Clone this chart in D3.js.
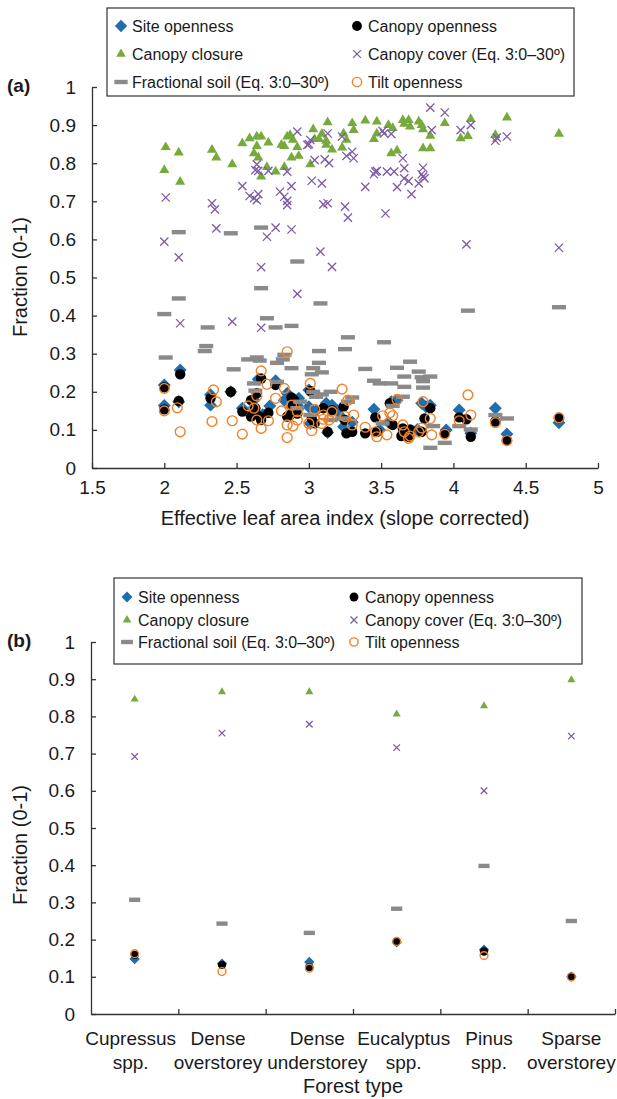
<!DOCTYPE html>
<html>
<head>
<meta charset="utf-8">
<script src="https://cdnjs.cloudflare.com/ajax/libs/d3/7.8.5/d3.min.js"></script>
<style>
	body { margin: 0; background: #fff; }
	text { font-family: 'Liberation Sans', Arial, sans-serif; fill: #1a1a1a; }
</style>
</head>
<body>
<div id="chart"></div>
<script>
// ---- data, panel (a): [effective LAI, fraction] ----
const siteOpenA = [
	[2.00, 0.218], [2.11, 0.257], [2.00, 0.164], [2.10, 0.174], [2.32, 0.192], [2.32, 0.165],
	[2.46, 0.200], [2.54, 0.157], [2.65, 0.233], [2.77, 0.229], [2.73, 0.163], [2.85, 0.196],
	[2.93, 0.183], [3.00, 0.161], [3.00, 0.205], [2.83, 0.178], [2.62, 0.178], [2.92, 0.165],
	[3.12, 0.170], [3.16, 0.165], [3.13, 0.093], [3.23, 0.132], [3.24, 0.108], [3.45, 0.154],
	[3.57, 0.174], [3.61, 0.178], [3.78, 0.170], [3.81, 0.161], [3.49, 0.100], [3.75, 0.101],
	[3.66, 0.095], [3.01, 0.117], [4.04, 0.152], [4.29, 0.157], [3.95, 0.100], [4.12, 0.091],
	[4.37, 0.089], [4.73, 0.119], [3.84, 0.165], [2.60, 0.150], [2.68, 0.140], [2.88, 0.160],
	[3.05, 0.150], [3.20, 0.150], [3.30, 0.120], [3.55, 0.120]
];
const canopyOpenA = [
	[2.00, 0.212], [2.11, 0.246], [2.00, 0.154], [2.10, 0.176], [2.46, 0.200], [2.54, 0.148],
	[2.67, 0.235], [2.77, 0.218], [2.72, 0.145], [2.60, 0.135], [2.64, 0.196], [2.88, 0.185],
	[2.85, 0.135], [2.92, 0.143], [3.01, 0.202], [3.04, 0.117], [2.32, 0.183], [2.67, 0.126],
	[2.89, 0.165], [3.10, 0.157], [3.16, 0.152], [3.13, 0.095], [3.24, 0.161], [3.25, 0.126],
	[3.30, 0.095], [3.39, 0.091], [3.46, 0.133], [3.47, 0.095], [3.56, 0.170], [3.58, 0.113],
	[3.64, 0.084], [3.69, 0.082], [3.70, 0.101], [3.80, 0.130], [3.84, 0.157], [3.78, 0.095],
	[3.02, 0.130], [3.26, 0.091], [3.65, 0.104], [4.04, 0.133], [4.09, 0.128], [3.94, 0.091],
	[4.12, 0.082], [4.37, 0.073], [4.29, 0.122], [4.73, 0.131], [2.66, 0.135], [2.87, 0.139],
	[2.90, 0.178], [2.60, 0.178], [2.63, 0.157]
];
const closureA = [
	[2.01, 0.842], [2.00, 0.782], [2.10, 0.828], [2.11, 0.751], [2.33, 0.835], [2.36, 0.815],
	[2.47, 0.797], [2.54, 0.852], [2.59, 0.865], [2.64, 0.870], [2.67, 0.870], [2.64, 0.845],
	[2.62, 0.826], [2.65, 0.815], [2.67, 0.765], [2.72, 0.854], [2.71, 0.790], [2.77, 0.778],
	[2.81, 0.848], [2.83, 0.845], [2.85, 0.870], [2.87, 0.874], [2.89, 0.861], [2.83, 0.790],
	[2.88, 0.815], [2.92, 0.842], [2.93, 0.819], [3.03, 0.889], [3.07, 0.863], [3.01, 0.797],
	[3.13, 0.907], [3.09, 0.877], [3.04, 0.863], [3.12, 0.859], [3.12, 0.848], [3.16, 0.836],
	[3.24, 0.878], [3.26, 0.861], [3.23, 0.841], [3.30, 0.905], [3.31, 0.887], [3.39, 0.912],
	[3.47, 0.909], [3.45, 0.863], [3.47, 0.878], [3.55, 0.900], [3.58, 0.892], [3.65, 0.913],
	[3.69, 0.913], [3.66, 0.903], [3.70, 0.896], [3.76, 0.909], [3.78, 0.900], [3.79, 0.889],
	[3.84, 0.872], [3.57, 0.826], [3.61, 0.833], [3.79, 0.839], [3.84, 0.839], [3.94, 0.905],
	[4.05, 0.865], [4.10, 0.871], [4.12, 0.916], [4.29, 0.874], [4.37, 0.920], [4.73, 0.877]
];
const coverA = [
	[2.01, 0.710], [2.00, 0.594], [2.10, 0.553], [2.11, 0.380], [2.33, 0.695], [2.35, 0.679],
	[2.36, 0.629], [2.54, 0.740], [2.59, 0.714], [2.62, 0.708], [2.65, 0.719], [2.64, 0.703],
	[2.63, 0.782], [2.64, 0.797], [2.65, 0.780], [2.72, 0.780], [2.71, 0.607], [2.67, 0.527],
	[2.77, 0.631], [2.80, 0.725], [2.83, 0.712], [2.85, 0.701], [2.85, 0.690], [2.85, 0.778],
	[2.88, 0.740], [2.88, 0.626], [2.92, 0.883], [3.00, 0.850], [3.01, 0.861], [3.04, 0.808],
	[3.02, 0.754], [2.99, 0.848], [3.13, 0.878], [3.23, 0.870], [3.11, 0.810], [3.14, 0.800],
	[3.09, 0.747], [3.10, 0.692], [3.13, 0.695], [3.25, 0.686], [3.27, 0.657], [3.26, 0.819],
	[3.30, 0.830], [3.31, 0.813], [3.39, 0.738], [3.46, 0.778], [3.47, 0.780], [3.45, 0.771],
	[3.54, 0.778], [3.59, 0.778], [3.53, 0.668], [3.61, 0.737], [3.65, 0.813], [3.66, 0.787],
	[3.66, 0.760], [3.69, 0.753], [3.71, 0.719], [3.76, 0.747], [3.78, 0.771], [3.79, 0.788],
	[3.79, 0.765], [3.80, 0.760], [3.84, 0.946], [3.85, 0.887], [3.51, 0.885], [3.52, 0.878],
	[3.57, 0.877], [3.94, 0.933], [4.05, 0.887], [4.12, 0.900], [4.29, 0.859], [4.30, 0.867],
	[4.37, 0.870], [4.09, 0.587], [4.73, 0.578], [3.08, 0.568], [3.16, 0.528], [2.47, 0.384],
	[2.67, 0.368], [2.92, 0.457]
];
const soilA = [
	[2.10, 0.619], [2.46, 0.616], [2.67, 0.631], [2.92, 0.542], [2.67, 0.472], [2.00, 0.404],
	[2.10, 0.445], [2.01, 0.290], [2.30, 0.369], [2.29, 0.320], [2.28, 0.307], [2.48, 0.259],
	[2.58, 0.285], [2.64, 0.290], [2.66, 0.282], [2.71, 0.393], [2.77, 0.369], [2.88, 0.373],
	[2.62, 0.222], [2.63, 0.203], [2.78, 0.226], [2.78, 0.276], [2.82, 0.285], [2.83, 0.297],
	[2.88, 0.262], [3.01, 0.139], [3.08, 0.432], [3.07, 0.307], [3.07, 0.276], [3.03, 0.200],
	[3.03, 0.262], [3.27, 0.343], [3.52, 0.330], [3.25, 0.312], [3.39, 0.260], [3.09, 0.251],
	[3.02, 0.246], [3.61, 0.263], [3.70, 0.279], [3.45, 0.229], [3.49, 0.222], [3.57, 0.222],
	[3.66, 0.240], [3.76, 0.253], [3.78, 0.238], [3.79, 0.228], [3.66, 0.213], [3.79, 0.211],
	[3.15, 0.200], [3.09, 0.193], [3.05, 0.187], [3.30, 0.185], [3.27, 0.174], [3.65, 0.187],
	[3.58, 0.163], [3.15, 0.126], [3.23, 0.130], [3.51, 0.117], [3.86, 0.110], [3.84, 0.053],
	[2.94, 0.174], [2.92, 0.157], [4.10, 0.413], [4.73, 0.422], [4.29, 0.139], [4.37, 0.130],
	[4.04, 0.110], [4.12, 0.101], [3.94, 0.066], [3.84, 0.240]
];
const tiltOpenA = [
	[2.00, 0.209], [2.00, 0.150], [2.09, 0.158], [2.11, 0.095], [2.34, 0.205], [2.36, 0.174],
	[2.33, 0.122], [2.47, 0.124], [2.54, 0.089], [2.67, 0.255], [2.71, 0.220], [2.64, 0.189],
	[2.58, 0.163], [2.62, 0.157], [2.64, 0.126], [2.67, 0.104], [2.72, 0.124], [2.77, 0.183],
	[2.85, 0.305], [2.83, 0.209], [2.81, 0.150], [2.88, 0.165], [2.85, 0.113], [2.89, 0.110],
	[2.85, 0.080], [2.92, 0.126], [3.00, 0.117], [3.02, 0.098], [3.01, 0.222], [3.23, 0.207],
	[3.27, 0.178], [3.61, 0.180], [3.79, 0.174], [3.04, 0.154], [2.92, 0.148], [3.16, 0.148],
	[3.10, 0.139], [3.25, 0.135], [3.31, 0.139], [3.51, 0.137], [3.58, 0.137], [3.56, 0.145],
	[3.10, 0.128], [3.14, 0.126], [3.09, 0.117], [3.30, 0.113], [3.39, 0.107], [3.46, 0.095],
	[3.47, 0.082], [3.54, 0.087], [3.65, 0.113], [3.66, 0.095], [3.69, 0.078], [3.70, 0.084],
	[3.76, 0.095], [3.78, 0.105], [3.85, 0.087], [4.10, 0.192], [4.12, 0.139], [4.04, 0.124],
	[3.94, 0.089], [4.29, 0.119], [4.37, 0.072], [4.73, 0.132], [3.84, 0.130]
];

// ---- data, panel (b): one value per forest type ----
const forestTypes = [
	['Cupressus', 'spp.'], ['Dense', 'overstorey'], ['Dense', 'understorey'],
	['Eucalyptus', 'spp.'], ['Pinus', 'spp.'], ['Sparse', 'overstorey']
];
const siteOpenB = [0.148, 0.135, 0.140, 0.193, 0.173, 0.100];
const canopyOpenB = [0.159, 0.132, 0.126, 0.195, 0.168, 0.100];
const closureB = [0.846, 0.866, 0.866, 0.806, 0.828, 0.898];
const coverB = [0.692, 0.755, 0.779, 0.716, 0.600, 0.747];
const soilB = [0.307, 0.243, 0.218, 0.283, 0.398, 0.250];
const tiltOpenB = [0.162, 0.114, 0.123, 0.195, 0.157, 0.100];

const yTicks = [0, 0.1, 0.2, 0.3, 0.4, 0.5, 0.6, 0.7, 0.8, 0.9, 1];
const xTicksA = [1.5, 2, 2.5, 3, 3.5, 4, 4.5, 5];

const colors = {
	site: '#1f6ead',
	canopy: '#000000',
	closure: '#77aa3c',
	cover: '#7c5ba6',
	soil: '#8a8a8a',
	tilt: '#f28228'
};

const svg = d3.select('#chart')
	.append('svg')
	.attr('width', 617)
	.attr('height', 1099);

// draw one marker kind at (cx, cy); s scales the marker
const drawMarker = (g, kind, cx, cy, s) => {
	const t = `translate(${cx},${cy})`;
	if (kind === 'site') {
		g.append('path').attr('transform', t + ' rotate(45)')
			.attr('d', d3.symbol(d3.symbolSquare, 84 * s * s)())
			.attr('fill', colors.site);
	} else if (kind === 'canopy') {
		g.append('circle').attr('cx', cx).attr('cy', cy).attr('r', 5.2 * s)
			.attr('fill', colors.canopy);
	} else if (kind === 'closure') {
		g.append('path').attr('transform', t)
			.attr('d', d3.symbol(d3.symbolTriangle, 44 * s * s)())
			.attr('fill', colors.closure);
	} else if (kind === 'cover') {
		g.append('path').attr('transform', t)
			.attr('d', d3.symbol(d3.symbolTimes, 46 * s * s)())
			.attr('fill', 'none').attr('stroke', colors.cover).attr('stroke-width', 1.3);
	} else if (kind === 'soil') {
		g.append('rect').attr('x', cx - 7 * s).attr('y', cy - 2.2).attr('width', 14 * s).attr('height', 4.4)
			.attr('fill', colors.soil);
	} else if (kind === 'tilt') {
		g.append('circle').attr('cx', cx).attr('cy', cy).attr('r', 4.9 * s)
			.attr('fill', 'none').attr('stroke', colors.tilt).attr('stroke-width', 1.4);
	}
};

const legendItems = [
	['site', 'Site openness'], ['canopy', 'Canopy openness'],
	['closure', 'Canopy closure'], ['cover', 'Canopy cover (Eq. 3:0–30º)'],
	['soil', 'Fractional soil (Eq. 3:0–30º)'], ['tilt', 'Tilt openness']
];

const drawLegend = (box, col1, col2, rows, s) => {
	const g = svg.append('g');
	g.append('rect')
		.attr('x', box.x).attr('y', box.y).attr('width', box.w).attr('height', box.h)
		.attr('fill', '#fff').attr('stroke', '#333').attr('stroke-width', 1.2);
	legendItems.forEach((d, i) => {
		const mx = i % 2 === 0 ? col1 : col2;
		const my = rows[Math.floor(i / 2)];
		drawMarker(g, d[0], mx, my, s);
		g.append('text')
			.attr('x', mx + 11).attr('y', my + 6)
			.style('font-size', '16px')
			.text(d[1]);
	});
};

const styleAxis = (g) => {
	g.select('.domain').attr('stroke', '#333').attr('stroke-width', 1.3);
	g.selectAll('.tick line').attr('stroke', '#333').attr('stroke-width', 1.3);
	g.selectAll('.tick text').style('font-size', '19px').attr('fill', '#1a1a1a');
};

const yTitle = (cy, label) => {
	svg.append('text')
		.attr('transform', `translate(27,${cy}) rotate(-90)`)
		.attr('text-anchor', 'middle')
		.style('font-size', '20px')
		.text(label);
};

// ================= panel (a) =================
const xA = d3.scaleLinear().domain([1.5, 5]).range([92, 598]);
const yA = d3.scaleLinear().domain([0, 1]).range([468, 87]);

svg.append('g')
	.attr('transform', 'translate(0,468)')
	.call(d3.axisBottom(xA).tickValues(xTicksA).tickSizeInner(-5).tickSizeOuter(0).tickPadding(13)
		.tickFormat(d3.format('')))
	.call(styleAxis);
svg.append('g')
	.attr('transform', 'translate(92,0)')
	.call(d3.axisLeft(yA).tickValues(yTicks).tickSizeInner(-5).tickSizeOuter(0).tickPadding(16)
		.tickFormat(d3.format('')))
	.call(styleAxis);

const seriesA = [
	['site', siteOpenA], ['canopy', canopyOpenA], ['closure', closureA],
	['cover', coverA], ['soil', soilA], ['tilt', tiltOpenA]
];
const marksA = svg.append('g');
seriesA.forEach(([kind, data]) => {
	data.forEach((d) => drawMarker(marksA, kind, xA(d[0]), yA(d[1]), 1));
});

svg.append('text')
	.attr('x', 345).attr('y', 525)
	.attr('text-anchor', 'middle')
	.style('font-size', '20px')
	.text('Effective leaf area index (slope corrected)');
yTitle(277, 'Fraction (0-1)');
svg.append('text')
	.attr('x', 7).attr('y', 92)
	.style('font-size', '19px').style('font-weight', 'bold')
	.text('(a)');

drawLegend({ x: 107, y: 8, w: 467, h: 88 }, 121, 357, [26, 54, 82], 0.95);

// ================= panel (b) =================
const xB = d3.scaleBand().domain(d3.range(forestTypes.length)).range([91, 615]);
const xBTicks = d3.scaleLinear().domain([0, forestTypes.length]).range([91, 615]);
const yB = d3.scaleLinear().domain([0, 1]).range([1014, 642]);
// category labels sit a little off the band centres in the original
const labelShift = [-4, -4, 8, 7, 5, 0];

svg.append('g')
	.attr('transform', 'translate(0,1014)')
	.call(d3.axisBottom(xBTicks).tickValues(d3.range(1, forestTypes.length + 1))
		.tickSizeInner(-5).tickSizeOuter(0).tickFormat(''))
	.call(styleAxis);
svg.append('g')
	.attr('transform', 'translate(91,0)')
	.call(d3.axisLeft(yB).tickValues(yTicks).tickSizeInner(-5).tickSizeOuter(0).tickPadding(16)
		.tickFormat(d3.format('')))
	.call(styleAxis);

const seriesB = [
	['site', siteOpenB], ['canopy', canopyOpenB], ['closure', closureB],
	['cover', coverB], ['soil', soilB], ['tilt', tiltOpenB]
];
const marksB = svg.append('g');
seriesB.forEach(([kind, data]) => {
	data.forEach((v, i) => drawMarker(marksB, kind, xB(i) + xB.bandwidth() / 2, yB(v), 0.8));
});

forestTypes.forEach((lines, i) => {
	const t = svg.append('text')
		.attr('text-anchor', 'middle')
		.style('font-size', '19px');
	lines.forEach((ln, j) => {
		t.append('tspan')
			.attr('x', xB(i) + xB.bandwidth() / 2 + labelShift[i])
			.attr('y', 1045 + j * 24)
			.text(ln);
	});
});

svg.append('text')
	.attr('x', 353).attr('y', 1093)
	.attr('text-anchor', 'middle')
	.style('font-size', '20px')
	.text('Forest type');
yTitle(845, 'Fraction (0-1)');
svg.append('text')
	.attr('x', 7).attr('y', 647)
	.style('font-size', '19px').style('font-weight', 'bold')
	.text('(b)');

drawLegend({ x: 114, y: 578, w: 468, h: 86 }, 127, 354, [597, 620, 642], 0.85);
</script>
</body>
</html>
